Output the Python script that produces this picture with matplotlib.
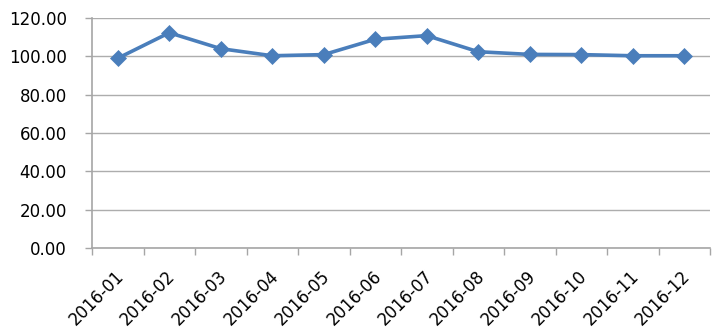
import matplotlib
matplotlib.use("Agg")
import matplotlib.pyplot as plt
import matplotlib.transforms as mtransforms
import numpy as np

categories = ["2016-01", "2016-02", "2016-03", "2016-04", "2016-05", "2016-06",
              "2016-07", "2016-08", "2016-09", "2016-10", "2016-11", "2016-12"]
values = [99.0, 112.3, 104.0, 100.3, 100.9, 108.9, 110.8, 102.4, 101.0, 100.9, 100.3, 100.3]
yticks = [0, 20, 40, 60, 80, 100, 120]

plt.rcParams['font.family'] = ['DejaVu Sans']

fig = plt.figure(figsize=(7.19, 3.35), dpi=100)
ax = fig.add_axes([92/719, 1-248/335, (710-92)/719, (248-18)/335])

x = np.arange(len(categories))
ax.plot(x, values, color='#4A7EBB', linewidth=2.6, marker='D', markersize=8,
        markerfacecolor='#4A7EBB', markeredgecolor='#4A7EBB', markeredgewidth=0.5,
        zorder=3, clip_on=False)

ax.set_xlim(-0.5, len(categories) - 0.5)
ax.set_ylim(0, 120)
ax.set_yticks(yticks)
ax.set_yticklabels([f"{v:.2f}" for v in yticks], fontsize=12, color='#000000')
ax.yaxis.grid(True, color='#ADADAD', linewidth=1.0)
ax.set_axisbelow(True)

ax.set_xticks(x)
ax.set_xticklabels(categories, rotation=45, ha='right', rotation_mode='anchor', fontsize=12)
ax.set_xticks(np.arange(-0.5, len(categories), 1.0), minor=True)
ax.tick_params(axis='x', which='major', length=0, pad=14)
ax.tick_params(axis='x', which='minor', length=5, color='#A6A6A6', width=1)
ax.tick_params(axis='y', length=5, color='#A6A6A6', width=1, pad=13)
offset = mtransforms.ScaledTranslation(-3/100, 0, fig.dpi_scale_trans)
for lab in ax.get_xticklabels():
    lab.set_transform(lab.get_transform() + offset)

for s in ['top', 'right']:
    ax.spines[s].set_visible(False)
for s in ['left', 'bottom']:
    ax.spines[s].set_color('#A6A6A6')
    ax.spines[s].set_linewidth(1.2)

fig.savefig("out.png", dpi=100)
